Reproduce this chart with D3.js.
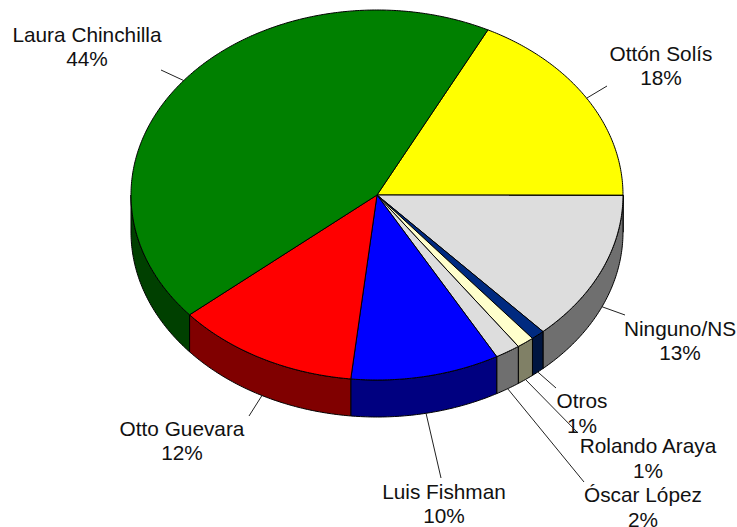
<!DOCTYPE html>
<html><head><meta charset="utf-8">
<script src="https://cdnjs.cloudflare.com/ajax/libs/d3/7.8.5/d3.min.js"></script>
<style>html,body{margin:0;padding:0;background:#fff}svg{display:block}text{font-family:"Liberation Sans",Arial,sans-serif;font-size:20.8px;fill:#111;text-anchor:middle}</style>
</head><body><svg id="c" width="737" height="527"></svg>
<script>
const names = ["Ottón Solís","Ninguno/NS","Otros","Rolando Araya","Óscar López","Luis Fishman","Otto Guevara","Laura Chinchilla"];
const shares = [17.6,13.2,0.9,1.15,1.65,9.8,12.1,43.7];
const percentLabels = ["18%","13%","1%","1%","2%","10%","12%","44%"];
const topColors = ["#ffff00","#dddddd","#002a80","#ffffcc","#dddddd","#0000ff","#ff0000","#008000"];
const sideColors = ["#808000","#6f6f6f","#001540","#808066","#6f6f6f","#000080","#800000","#004000"];
const labelX = [661,680,582,648,643,444,182,87];
const labelY = [60.5,335.5,408,453,502,498.5,435.5,41.5];
const leaderEndX = [607,625,556,578,584,441,249,161];
const leaderEndY = [86,315,388,433,482,478,416,70];

const cx=377, cy=195, rx=246, ry=185, depth=37, startAngle=26.8*Math.PI/180;
const sx=d3.scaleLinear().domain([-1,1]).range([cx-rx,cx+rx]);
const sy=d3.scaleLinear().domain([-1,1]).range([cy-ry,cy+ry]);
const px=a=>sx(Math.sin(a)), py=a=>sy(-Math.cos(a));
const sample=(a0,a1)=>{const n=Math.max(2,Math.ceil((a1-a0)/0.01));return d3.range(n+1).map(i=>a0+(a1-a0)*i/n);};
const line=d3.line();
const pie=d3.pie().sort(null).startAngle(startAngle).endAngle(startAngle+2*Math.PI)(shares);
const svg=d3.select("#c");

// side walls: visible only across the front half of the ellipse
const front0=Math.PI/2, front1=3*Math.PI/2;
const wall=d=>{
  const a0=Math.max(d.startAngle,front0), a1=Math.min(d.endAngle,front1);
  if(a1<=a0) return null;
  const s=sample(a0,a1);
  return line(s.map(a=>[px(a),py(a)]).concat(s.slice().reverse().map(a=>[px(a),py(a)+depth])))+"Z";
};
svg.append("g").selectAll("path").data(pie).join("path")
  .attr("d",wall).attr("fill",(d,i)=>sideColors[i]).attr("stroke","#000").attr("stroke-width",1).attr("stroke-linejoin","round");
// top slices
svg.append("g").selectAll("path").data(pie).join("path")
  .attr("d",d=>line([[cx,cy]].concat(sample(d.startAngle,d.endAngle).map(a=>[px(a),py(a)])))+"Z")
  .attr("fill",(d,i)=>topColors[i]).attr("stroke","#000").attr("stroke-width",1).attr("stroke-linejoin","round");
// labels
const lab=svg.append("g").selectAll("g").data(names).join("g");
lab.append("text").attr("x",(d,i)=>labelX[i]).attr("y",(d,i)=>labelY[i]).text(d=>d);
lab.append("text").attr("x",(d,i)=>labelX[i]).attr("y",(d,i)=>labelY[i]+24.5).text((d,i)=>percentLabels[i]);
// leaders
svg.append("g").selectAll("line").data(pie).join("line")
  .each(function(d,i){
    const m=(d.startAngle+d.endAngle)/2, isFront=Math.cos(m)<0;
    d3.select(this).attr("x1",px(m)).attr("y1",py(m)+(isFront?depth:0))
      .attr("x2",leaderEndX[i]).attr("y2",leaderEndY[i]);
  }).attr("stroke","#222").attr("stroke-width",1);
</script></body></html>
